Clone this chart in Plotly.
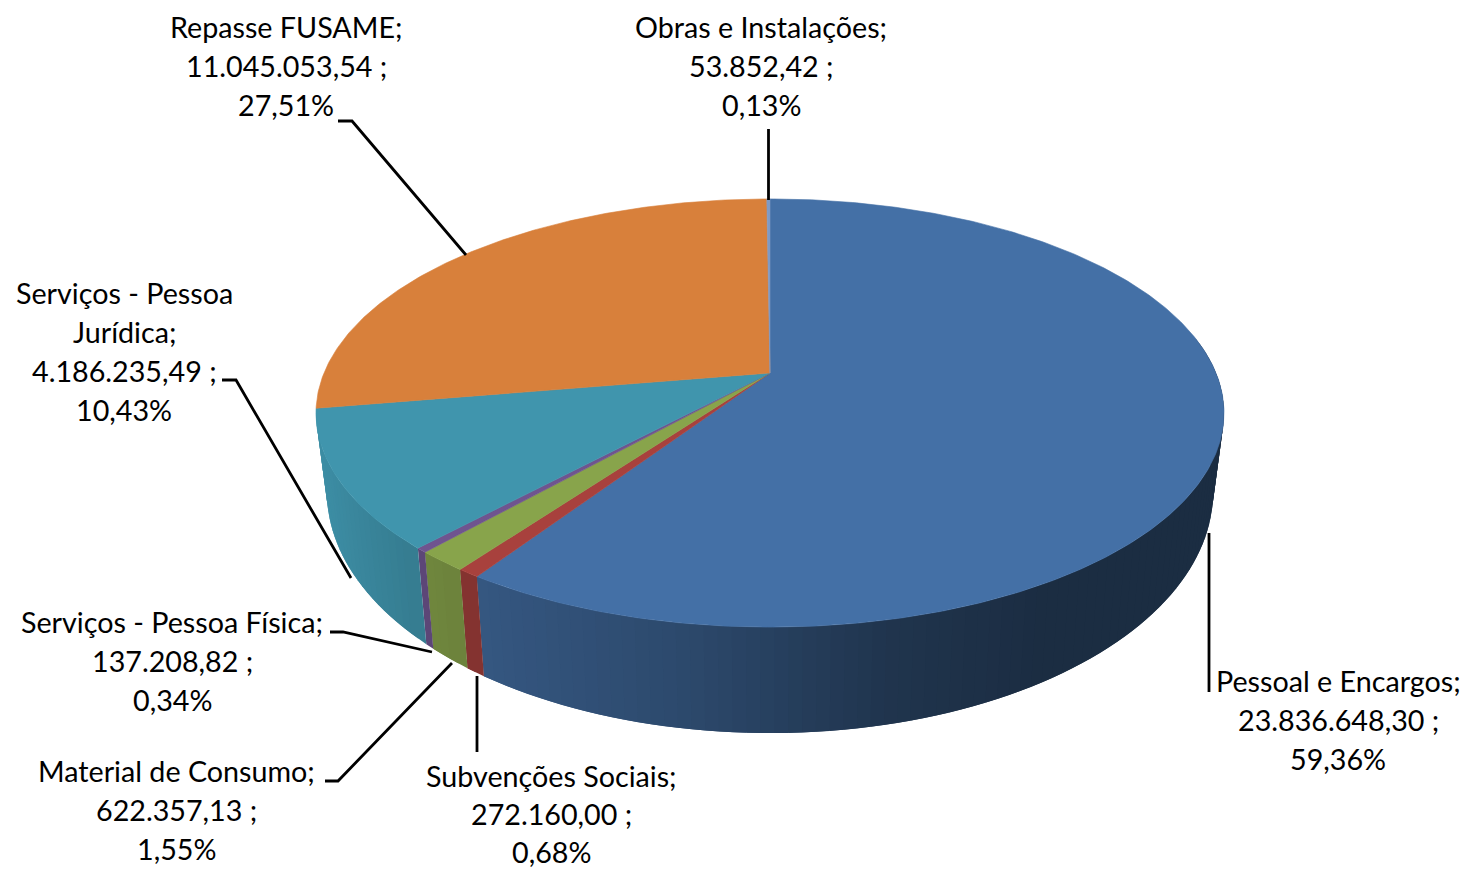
import numpy as np
import plotly.graph_objects as go

categories = ["Pessoal e Encargos", "Subvenções Sociais", "Material de Consumo",
              "Serviços - Pessoa Física", "Serviços - Pessoa Jurídica",
              "Repasse FUSAME", "Obras e Instalações"]
values = [23836648.30, 272160.00, 622357.13, 137208.82, 4186235.49, 11045053.54, 53852.42]
top_colors = ["#4470a6", "#a8413d", "#88a44b", "#6f548f", "#4095ad", "#d8803b", "#7f9bc6"]

label_lines = [
    ["Pessoal e Encargos;", "23.836.648,30 ;", "59,36%"],
    ["Subvenções Sociais;", "272.160,00 ;", "0,68%"],
    ["Material de Consumo;", "622.357,13 ;", "1,55%"],
    ["Serviços - Pessoa Física;", "137.208,82 ;", "0,34%"],
    ["Serviços - Pessoa", "Jurídica;", "4.186.235,49 ;", "10,43%"],
    ["Repasse FUSAME;", "11.045.053,54 ;", "27,51%"],
    ["Obras e Instalações;", "53.852,42 ;", "0,13%"],
]
label_x = [1338, 551, 176, 172, 124, 286, 761]
label_y0 = [680.7, 775.5, 770.7, 621.7, 292.7, 26.7, 26.7]
label_line_h = [39.2, 38.0, 39.2, 39.2, 39.2, 39.2, 39.2]
FONT = "Lato"
FONT_SIZE = 28.7

leaders = [
    ([1209, 1209], [533, 692]),
    ([477, 477], [676, 752]),
    ([325, 338, 452], [781, 781, 663]),
    ([330, 343, 432], [632, 632, 652]),
    ([222, 236, 351], [380, 380, 578]),
    ([338, 352, 466], [121, 121, 255]),
    ([768.5, 768.5], [129, 200]),
]

# projection of the disc (camera perspective) into page pixels
CX, CY = 770, 373
K, H, W = 0.187, 206.6, 446
BOT_S, BOT_C, BOT_B, TOP_C, TOP_B = 0.976, 492, 241, 413, 214


def top_pt(t):
    x, y = np.sin(t), np.cos(t)
    d = 1 + K * y
    return CX + W * x / d, CY - H * y / d


def bot_pt(t):
    px, py = top_pt(t)
    return CX + BOT_S * (px - CX), BOT_C + (py - TOP_C) * BOT_B / TOP_B


def shade(x):
    return np.interp(x, [320, 420, 480, 700, 900, 1050, 1224],
                     [0.95, 0.83, 0.78, 0.65, 0.47, 0.40, 0.40])


def rgb(hexc, f=1.0):
    r, g, b = (int(hexc[i:i + 2], 16) for i in (1, 3, 5))
    return f"rgb({round(r * f)},{round(g * f)},{round(b * f)})"


total = sum(values)
edges = 2 * np.pi * np.cumsum([0] + values) / total

fig = go.Figure()


def poly(xs, ys, color, lw=0.6):
    fig.add_trace(go.Scatter(x=xs, y=ys, mode="lines", fill="toself", fillcolor=color,
                             line=dict(color=color, width=lw), hoverinfo="skip",
                             showlegend=False))


# side wall, in narrow bands so that the shading runs across it;
# each band reaches under its neighbour so no seam shows
STEP = np.radians(1.5)
WALL_START = np.radians(80)
WALL_END = edges[5]
for i, c in enumerate(top_colors):
    a, b = edges[i], edges[i + 1]
    a2, b2 = max(a, WALL_START), min(b, WALL_END)
    if b2 <= a2:
        continue
    n = max(1, int(np.ceil((b2 - a2) / STEP)))
    ts = np.linspace(a2, b2, n + 1)
    for k in range(n - 1, -1, -1):
        t0 = ts[k]
        t1 = ts[min(k + 2, n)]
        x0, y0 = top_pt(t0)
        x1, y1 = top_pt(t1)
        x2, y2 = bot_pt(t1)
        x3, y3 = bot_pt(t0)
        xm = top_pt((ts[k] + ts[k + 1]) / 2)[0]
        poly([x0, x1, x2, x3, x0], [y0, y1, y2, y3, y0], rgb(c, shade(xm)), lw=0)

# top face
for i, c in enumerate(top_colors):
    ts = np.linspace(edges[i], edges[i + 1], max(3, int((edges[i + 1] - edges[i]) / 0.01)))
    xs, ys = top_pt(ts)
    poly([CX, *xs, CX], [CY, *ys, CY], c)

# leader lines
for lx, ly in leaders:
    fig.add_trace(go.Scatter(x=lx, y=ly, mode="lines", line=dict(color="#000000", width=2.8),
                             hoverinfo="skip", showlegend=False))

# labels
for lines, x, y0, lh in zip(label_lines, label_x, label_y0, label_line_h):
    for j, line in enumerate(lines):
        fig.add_annotation(x=x, y=y0 + j * lh, text=line, showarrow=False, xanchor="center",
                           yanchor="middle", font=dict(family=FONT, size=FONT_SIZE, color="#000000"))

fig.update_layout(
    width=1467, height=870, margin=dict(l=0, r=0, t=0, b=0),
    paper_bgcolor="white", plot_bgcolor="white", showlegend=False,
    xaxis=dict(range=[0, 1467], visible=False, fixedrange=True),
    yaxis=dict(range=[870, 0], visible=False, fixedrange=True),
)
fig.write_html("out.html", post_script="document.body.style.margin='0';document.body.style.overflow='hidden';",
               config={"displayModeBar": False})
